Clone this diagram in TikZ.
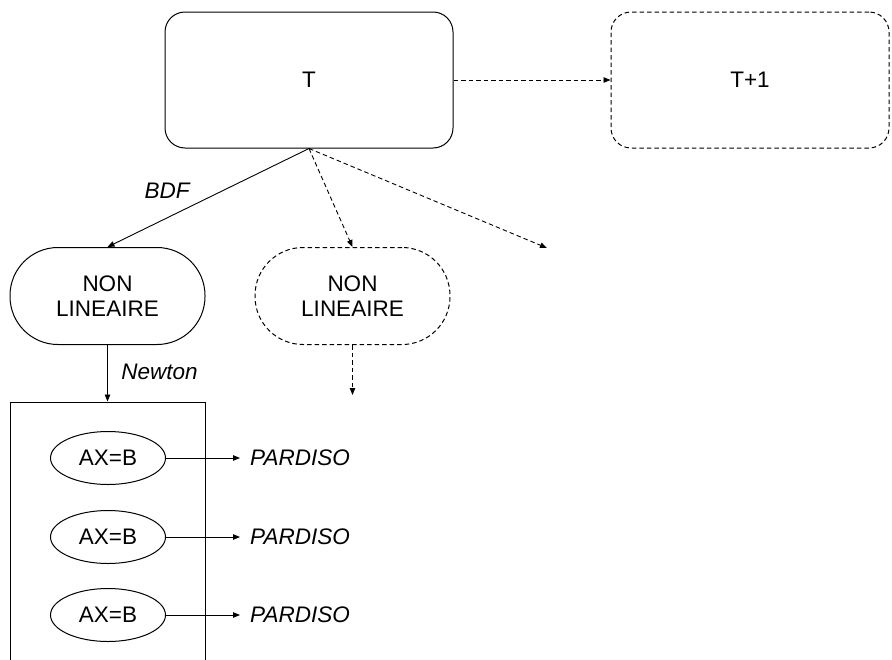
\documentclass[tikz,border=0pt]{standalone}
\usepackage{fontspec}
\setmainfont{Liberation Sans}
\usetikzlibrary{arrows.meta,shapes.geometric}
\begin{document}
\begin{tikzpicture}[x=1pt,y=-1pt,
  every node/.style={font=\fontsize{22.5}{25.5}\selectfont, align=center},
  base/.style={draw, line width=1pt},
  rbox/.style={base, rectangle, rounded corners=20pt, minimum width=288pt, minimum height=136pt},
  stadium/.style={base, rectangle, rounded corners=48pt, minimum width=195pt, minimum height=97pt},
  ell/.style={base, ellipse, minimum width=115pt, minimum height=53pt, inner sep=0pt},
  lbl/.style={font=\fontsize{22.5}{25.5}\selectfont\itshape},
  dsh/.style={dash pattern=on 4.5pt off 3pt},
  conn/.style={line width=0.9pt, -{Triangle[length=7pt,width=5.5pt]}},
]
\clip (0,0) rectangle (892,659);
\fill[white] (0,0) rectangle (892,659);
\node[rbox] (T) at (309,80) {T};
\node[rbox, dsh, minimum width=278pt] (T1) at (750,80) {T+1};
\node[stadium] (L) at (107.5,296) {NON\\LINEAIRE};
\node[stadium, dsh] (R) at (352.5,296) {NON\\LINEAIRE};
\node[base, rectangle, minimum width=195pt, minimum height=280pt] (box) at (107.5,542) {};
\node[ell] (e1) at (108,458) {AX=B};
\node[ell] (e2) at (108,537) {AX=B};
\node[ell] (e3) at (108,615) {AX=B};
\node[lbl, anchor=west, inner xsep=10pt, inner ysep=0pt] (p1) at (240,458) {PARDISO};
\node[lbl, anchor=west, inner xsep=10pt, inner ysep=0pt] (p2) at (240,537) {PARDISO};
\node[lbl, anchor=west, inner xsep=10pt, inner ysep=0pt] (p3) at (240,615) {PARDISO};
\coordinate (free1) at (547,248);
\coordinate (free2) at (352.5,395);
\node[lbl] (bdf) at (167,191) {BDF};
\node[lbl] (newton) at (159.5,372) {Newton};
\draw[conn, dsh] (T.east) -- (T1.west);
\draw[conn] (T.south) -- (L.north);
\draw[conn, dsh] (T.south) -- (R.north);
\draw[conn, dsh] (T.south) -- (free1);
\draw[conn] (L.south) -- (box.north);
\draw[conn, dsh] (R.south) -- (free2);
\draw[conn] (e1.east) -- (p1.west);
\draw[conn] (e2.east) -- (p2.west);
\draw[conn] (e3.east) -- (p3.west);
\end{tikzpicture}
\end{document}
